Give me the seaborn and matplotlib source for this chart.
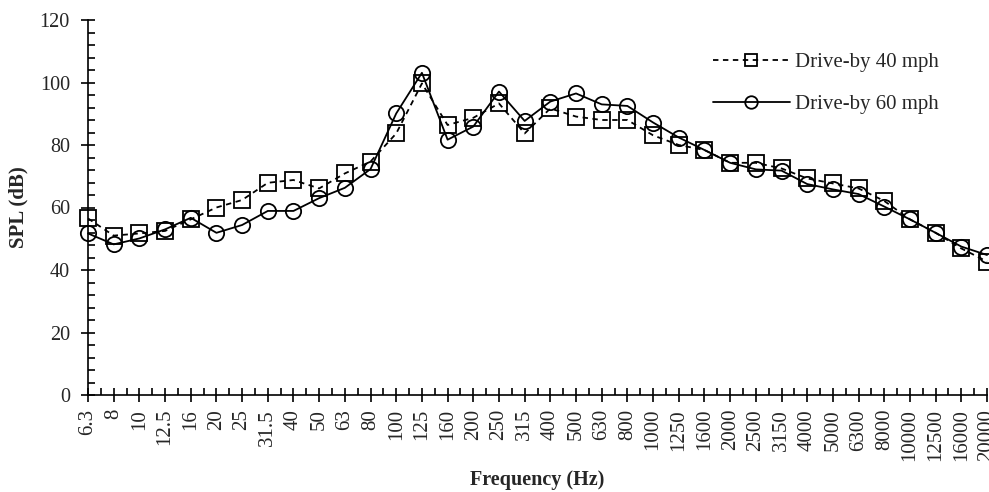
import numpy as np
import pandas as pd
import matplotlib
matplotlib.use("Agg")
import matplotlib.pyplot as plt
import seaborn as sns
from matplotlib.ticker import MultipleLocator

freqs = ["6.3", "8", "10", "12.5", "16", "20", "25", "31.5", "40", "50", "63", "80",
         "100", "125", "160", "200", "250", "315", "400", "500", "630", "800",
         "1000", "1250", "1600", "2000", "2500", "3150", "4000", "5000", "6300",
         "8000", "10000", "12500", "16000", "20000"]

spl_40 = [56.5, 51.0, 51.7, 52.5, 56.2, 60.0, 62.4, 67.9, 68.8, 66.1, 70.9, 74.7,
          83.7, 99.7, 86.4, 88.7, 93.3, 83.7, 91.7, 89.1, 88.0, 88.0,
          83.1, 80.0, 78.4, 74.3, 74.3, 72.5, 69.3, 67.7, 66.1,
          62.1, 56.2, 51.9, 46.9, 42.7]

spl_60 = [51.7, 48.2, 50.1, 53.0, 56.7, 51.9, 54.4, 58.9, 58.9, 63.0, 66.3, 72.3,
          90.1, 103.1, 81.7, 85.9, 97.1, 87.7, 93.9, 96.5, 93.0, 92.5,
          87.2, 82.4, 78.4, 74.3, 72.2, 71.8, 67.5, 65.8, 64.3,
          60.3, 56.2, 51.9, 47.5, 44.8]

labels = ["Drive-by 40 mph", "Drive-by 60 mph"]

df = pd.DataFrame({
    "pos": list(range(len(freqs))) * 2,
    "spl": spl_40 + spl_60,
    "series": [labels[0]] * len(freqs) + [labels[1]] * len(freqs),
})

sns.set_theme(style="white")
plt.rcParams["font.family"] = ["Liberation Serif", "DejaVu Serif"]

fig = plt.figure(figsize=(9.89, 4.92), dpi=100)
ax = fig.add_axes([88 / 989, 1 - 395 / 492, (987 - 88) / 989, (395 - 20) / 492])

sns.lineplot(data=df, x="pos", y="spl", hue="series", style="series",
             hue_order=labels, style_order=labels,
             palette=["black", "black"],
             markers={labels[0]: "s", labels[1]: "o"},
             dashes={labels[0]: (3, 2.5), labels[1]: ""},
             linewidth=1.3, markersize=11, ax=ax)

for line in ax.lines:
    line.set_markerfacecolor("none")
    line.set_markeredgecolor("black")
    line.set_markeredgewidth(1.3)
    line.set_clip_on(False)

ax.set_xlim(0, len(freqs) - 1)
ax.set_ylim(0, 120)
ax.set_xticks(range(len(freqs)))
ax.set_xticklabels(freqs, rotation=90, fontsize=15)
ax.xaxis.set_minor_locator(MultipleLocator(0.5))
ax.yaxis.set_major_locator(MultipleLocator(20))
ax.yaxis.set_minor_locator(MultipleLocator(4))
ax.tick_params(axis="y", labelsize=14.5)

ax.tick_params(which="major", direction="inout", length=10, width=1.2, color="black")
ax.tick_params(which="minor", direction="in", length=5, width=1.2, color="black")
ax.tick_params(axis="x", which="both", bottom=True, pad=5)
ax.tick_params(axis="y", which="both", left=True, pad=8)

for s in ["top", "right"]:
    ax.spines[s].set_visible(False)
for s in ["left", "bottom"]:
    ax.spines[s].set_color("black")
    ax.spines[s].set_linewidth(1.2)

ax.set_xlabel("Frequency (Hz)", fontsize=14.5, fontweight="bold", va="center")
ax.xaxis.set_label_coords(0.5, (395 - 480) / 375)
ax.set_ylabel("SPL (dB)", fontsize=15, fontweight="bold", va="center")
ax.yaxis.set_label_coords(-(88 - 18) / 899, 0.5)

leg = ax.legend(loc="upper left", bbox_to_anchor=(0.695, 0.914), frameon=False,
                fontsize=15, handlelength=3.7, labelspacing=1.1, handletextpad=0.25,
                borderpad=0, borderaxespad=0)
for h in leg.get_lines():
    h.set_markerfacecolor("none")
    h.set_markersize(9)

fig.savefig("out.png", dpi=100)
